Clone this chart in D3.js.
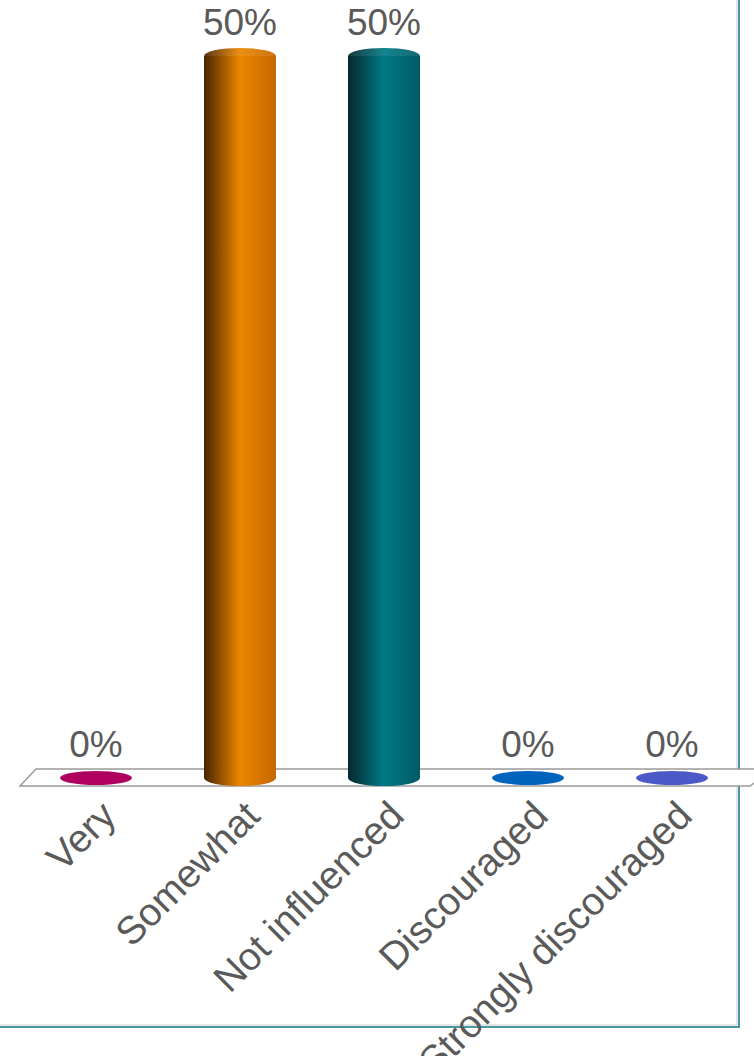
<!DOCTYPE html>
<html>
<head>
<meta charset="utf-8">
<script src="https://cdn.jsdelivr.net/npm/d3@7"></script>
<style>
  body { margin: 0; background: #fff; }
  text { font-family: "Liberation Sans", Arial, sans-serif; fill: #5a5a5a; }
</style>
</head>
<body>
<svg id="chart"></svg>
<script>
const categories = ["Very", "Somewhat", "Not influenced", "Discouraged", "Strongly discouraged"];
const values = [0, 50, 50, 0, 0];
const colors = ["#b0005e", "#e07c00", "#00707a", "#0063be", "#4b59c7"];
// dark / light / mid stops for the cylinder shading
const shades = [
  ["#50002a", "#d01070", "#a0005a"],
  ["#4a2400", "#ec8600", "#c46800"],
  ["#06282c", "#007a86", "#005a63"],
  ["#002a55", "#0a78d8", "#0058a8"],
  ["#20285a", "#5a68d8", "#4050b0"]
];

const W = 754, H = 1056;
const barW = 72, ry = 8;
const floorTop = 769, floorBot = 786, floorSkew = 16;

const SVG = d3.select("#chart").attr("width", W).attr("height", H);

const x = d3.scaleBand().domain(categories).range([24, 744]).paddingInner(0.5).paddingOuter(0.25);
const y = d3.scaleLinear().domain([0, 50]).range([778, 56]);

// gradients
const defs = SVG.append("defs");
shades.forEach((s, i) => {
  const g = defs.append("linearGradient").attr("id", "cyl" + i)
    .attr("x1", "0%").attr("x2", "100%").attr("y1", "0%").attr("y2", "0%");
  g.append("stop").attr("offset", "0%").attr("stop-color", s[0]);
  g.append("stop").attr("offset", "50%").attr("stop-color", s[1]);
  g.append("stop").attr("offset", "100%").attr("stop-color", s[2]);
});

// frame (only right and bottom edges visible)
SVG.append("path")
  .attr("d", `M739,0 V1027 H0`)
  .attr("fill", "none").attr("stroke", "#4a98a2").attr("stroke-width", 2);
SVG.append("path")
  .attr("d", `M737,0 V1025 H0`)
  .attr("fill", "none").attr("stroke", "#c8d0d0").attr("stroke-width", 1);

// floor
SVG.append("path")
  .attr("d", `M20,${floorBot} L${20 + floorSkew},${floorTop} L${W + 20},${floorTop} L${750},${floorBot} Z`)
  .attr("fill", "#fff").attr("stroke", "#9a9a9a").attr("stroke-width", 1.5);

const bars = SVG.append("g").selectAll("g")
  .data(categories.map((c, i) => ({ c, v: values[i], i })))
  .join("g");

bars.each(function (d) {
  const g = d3.select(this);
  const cx = x(d.c) + x.bandwidth() / 2;
  const rx = barW / 2;
  if (d.v === 0) {
    g.append("ellipse").attr("cx", cx).attr("cy", y(0)).attr("rx", rx).attr("ry", 7)
      .attr("fill", colors[d.i]);
    return;
  }
  const top = y(d.v), bot = y(0);
  g.append("path")
    .attr("d", `M${cx - rx},${top} V${bot} A${rx},${ry} 0 0 0 ${cx + rx},${bot} V${top} Z`)
    .attr("fill", `url(#cyl${d.i})`);
  g.append("ellipse").attr("cx", cx).attr("cy", top).attr("rx", rx).attr("ry", ry)
    .attr("fill", `url(#cyl${d.i})`).attr("opacity", 0.92);
});

// value labels
SVG.append("g").selectAll("text")
  .data(values)
  .join("text")
  .attr("x", (d, i) => x(categories[i]) + x.bandwidth() / 2)
  .attr("y", d => y(d) - 21)
  .attr("text-anchor", "middle")
  .style("font-size", "37px")
  .text(d => d + "%");

// category labels
SVG.append("g").selectAll("text")
  .data(categories)
  .join("text")
  .attr("transform", d => `translate(${x(d) + x.bandwidth() / 2 + 22},818) rotate(-45)`)
  .attr("text-anchor", "end")
  .style("font-size", "39px")
  .text(d => d);
</script>
</body>
</html>
